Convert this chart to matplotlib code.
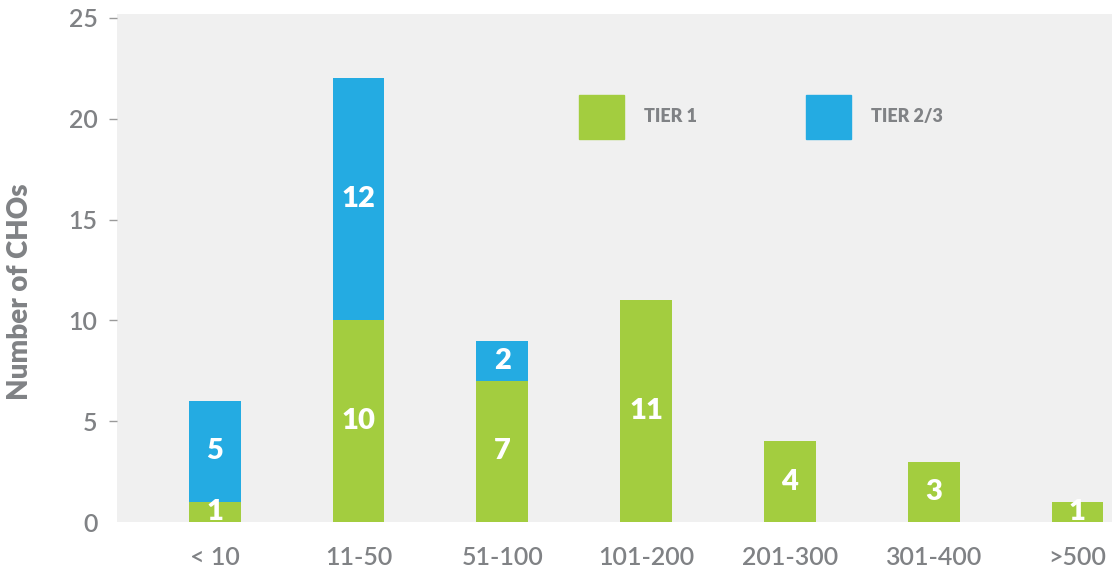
import matplotlib
matplotlib.use("Agg")
import matplotlib.pyplot as plt
from matplotlib.patches import Patch

GREEN = "#a3cd3f"
BLUE = "#24abe2"
TEXT = "#808285"

categories = ["< 10", "11-50", "51-100", "101-200", "201-300", "301-400", ">500"]
tier1 = [1, 10, 7, 11, 4, 3, 1]
tier23 = [5, 12, 2, 0, 0, 0, 0]
yticks = [0, 5, 10, 15, 20, 25]

plt.rcParams["font.family"] = ["Lato", "DejaVu Sans"]

fig = plt.figure(figsize=(11.12, 5.72), dpi=100)
ax = fig.add_axes([0.1052, 0.0874, 0.8948, 0.8873])
ax.set_facecolor("#f0f0f0")

x = range(len(categories))
width = 0.36
ax.bar(x, tier1, width, color=GREEN, label="TIER 1")
ax.bar(x, tier23, width, bottom=tier1, color=BLUE, label="TIER 2/3")

# white value labels centred in each segment
for i, (a, b) in enumerate(zip(tier1, tier23)):
    if a:
        ax.text(i, a / 2, str(a), ha="center", va="center", color="white",
                fontsize=21, fontweight="heavy")
    if b:
        ax.text(i, a + b / 2, str(b), ha="center", va="center", color="white",
                fontsize=21, fontweight="heavy")

ax.set_xlim(-0.68, 6.24)
ax.set_ylim(0, 25.17)
ax.set_yticks(yticks)
ax.set_xticks(list(x))
ax.set_xticklabels(categories)
for s in ax.spines.values():
    s.set_visible(False)
ax.tick_params(axis="x", length=0, pad=17, labelsize=18, labelcolor=TEXT)
ax.tick_params(axis="y", length=6, width=1, color="#9a9a9a", pad=8,
               labelsize=18, labelcolor=TEXT)
for lbl in ax.get_xticklabels() + ax.get_yticklabels():
    lbl.set_fontweight("semibold")
ax.yaxis.get_major_ticks()[0].tick1line.set_visible(False)
ax.set_ylabel("Number of CHOs", fontsize=20, fontweight="heavy", color=TEXT,
              va="center")
ax.yaxis.set_label_coords(-0.0975, 0.454)

handles = [Patch(color=GREEN), Patch(color=BLUE)]
ax.legend(handles, ["TIER 1", "TIER 2/3"], loc="upper left",
          bbox_to_anchor=(0.5207, 0.834), bbox_transform=fig.transFigure,
          ncol=2, frameon=False, borderpad=0, borderaxespad=0,
          handlelength=2.5, handleheight=3.35, handletextpad=1.1,
          columnspacing=6.05, prop={"size": 13, "weight": "heavy"},
          labelcolor=TEXT)

fig.savefig("out.png", dpi=100)
